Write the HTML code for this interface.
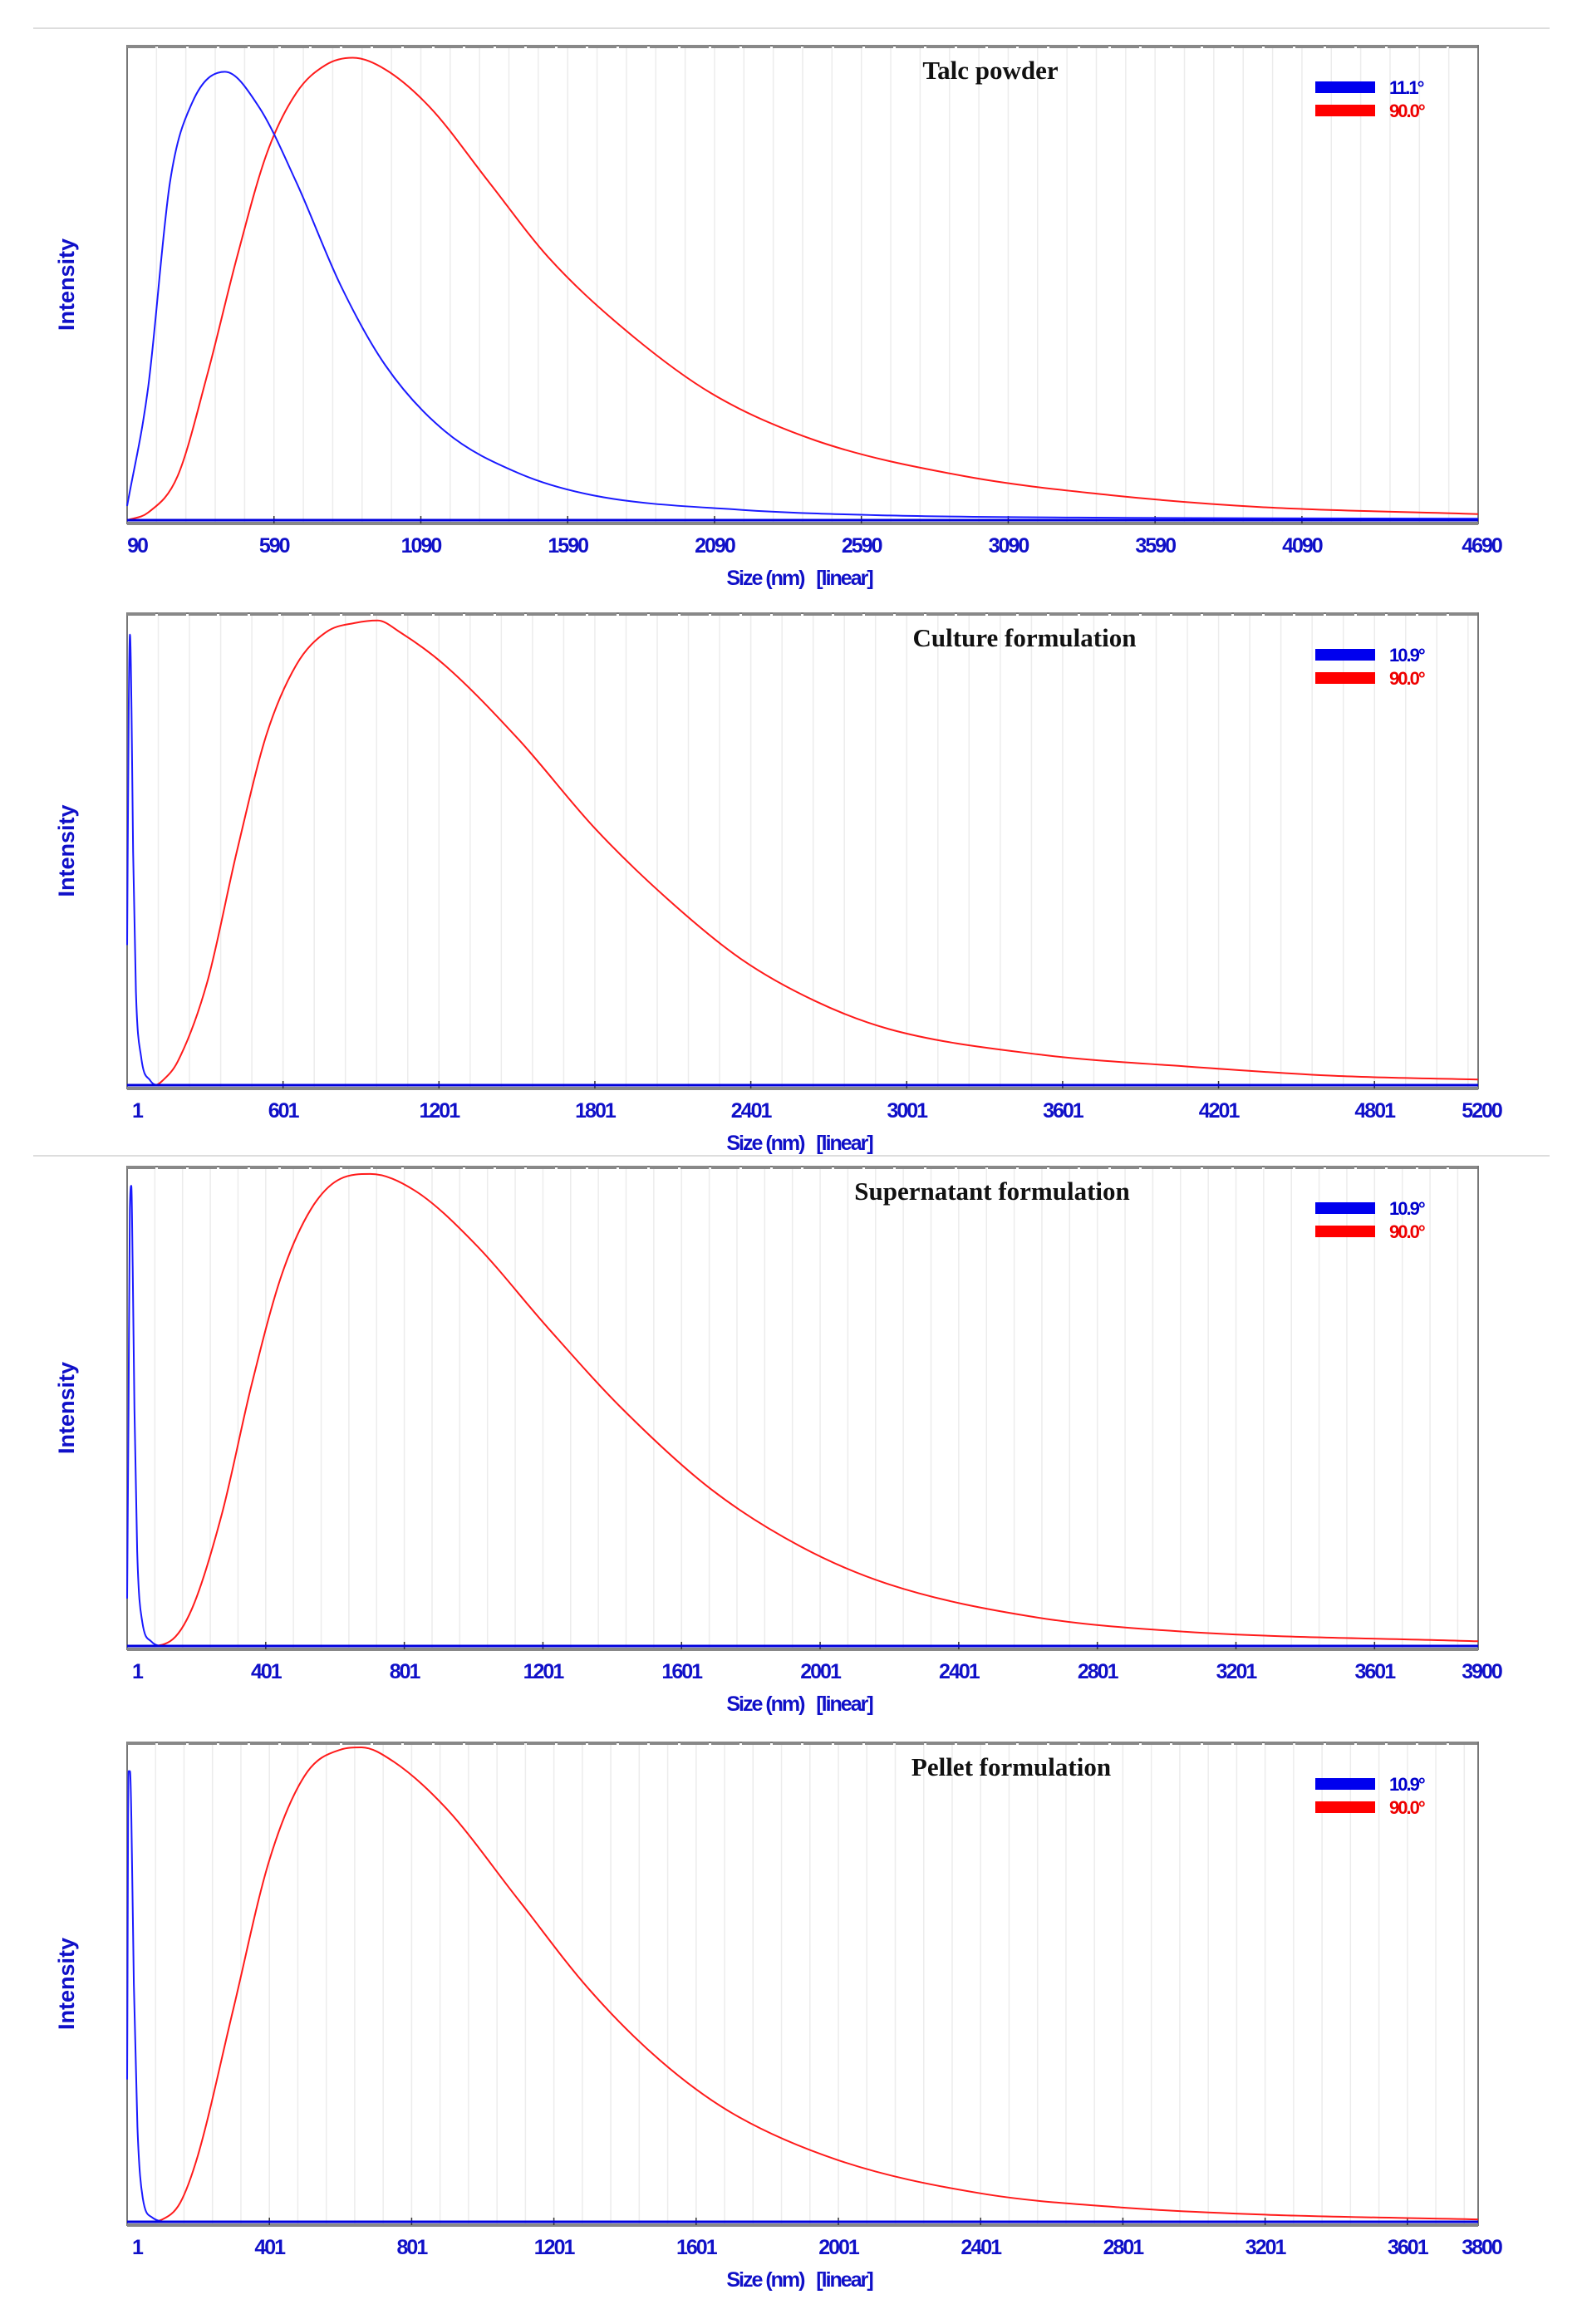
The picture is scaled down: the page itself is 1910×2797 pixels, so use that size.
<!DOCTYPE html>
<html><head><meta charset="utf-8"><style>
html,body{margin:0;padding:0;background:#fff;width:1910px;height:2797px;overflow:hidden}
svg{display:block}
.tick{font-family:"Liberation Sans",sans-serif;font-weight:bold;font-size:25px;fill:#1010c8;letter-spacing:-2px}
.title{font-family:"Liberation Serif",serif;font-weight:bold;font-size:31px;fill:#111}
.ylab{font-family:"Liberation Sans",sans-serif;font-weight:bold;font-size:27px;fill:#1010c8}
.leg{font-family:"Liberation Sans",sans-serif;font-weight:bold;font-size:22px;letter-spacing:-2px}
</style></head><body>
<svg id="chart" width="1910" height="2797" xmlns="http://www.w3.org/2000/svg">
<line x1="40" y1="34" x2="1865" y2="34" stroke="#ddd" stroke-width="2"/>
<line x1="40" y1="1391" x2="1865" y2="1391" stroke="#ddd" stroke-width="2"/>
</svg>
<script>
// Panel 1: Talc powder
const talcBlueSize=[90,161,236,312,423,539,666,817,969,1171,1423,1676,2180,2685,3500,4690];
const talcBlueInt=[0.03,0.28,0.72,0.89,0.955,0.88,0.72,0.50,0.33,0.19,0.10,0.053,0.022,0.01,0.005,0.003];
const talcRedSize=[90,161,262,363,464,565,666,767,858,969,1120,1322,1524,1777,2079,2433,2938,3443,3948,4690];
const talcRedInt=[0,0.016,0.094,0.31,0.56,0.78,0.91,0.97,0.985,0.96,0.88,0.72,0.56,0.41,0.27,0.17,0.094,0.053,0.028,0.013];
const talcTicks=[90,590,1090,1590,2090,2590,3090,3590,4090,4690];
// Panel 2: Culture formulation
const cultBlueSize=[1,7,12,18,24,35,55,90,120,5200];
const cultBlueInt=[0.3,0.8,0.965,0.8,0.5,0.2,0.06,0.01,0,0];
const cultRedSize=[1,81,110,138,195,309,423,537,652,766,880,965,1051,1222,1508,1801,2078,2364,2649,2934,3505,4076,4647,5200];
const cultRedInt=[0,0,0,0.01,0.05,0.22,0.5,0.75,0.9,0.97,0.99,0.995,0.97,0.9,0.74,0.55,0.4,0.27,0.18,0.12,0.066,0.04,0.02,0.012];
const cultTicks=[1,601,1201,1801,2401,3001,3601,4201,4801,5200];
// Panel 3: Supernatant formulation
const supBlueSize=[1,5,9,13,17,22,30,45,70,100,3900];
const supBlueInt=[0.1,0.5,0.92,0.97,0.8,0.5,0.2,0.05,0.01,0,0];
const supRedSize=[1,61,125,189,275,360,446,531,617,703,831,1002,1216,1430,1687,1944,2200,2628,3056,3900];
const supRedInt=[0,0,0.01,0.08,0.28,0.55,0.78,0.92,0.985,0.995,0.96,0.85,0.67,0.5,0.33,0.21,0.13,0.06,0.03,0.01];
const supTicks=[1,401,801,1201,1601,2001,2401,2801,3201,3601,3900];
// Panel 4: Pellet formulation
const pelBlueSize=[1,5,9,13,20,30,45,70,120,3800];
const pelBlueInt=[0.3,0.95,0.95,0.85,0.5,0.2,0.05,0.01,0,0];
const pelRedSize=[1,60,100,150,200,300,400,500,600,660,750,900,1100,1300,1500,1700,2000,2400,2800,3200,3800];
const pelRedInt=[0,0,0.005,0.04,0.14,0.45,0.76,0.94,0.995,1.0,0.97,0.87,0.68,0.49,0.34,0.23,0.13,0.06,0.03,0.015,0.005];
const pelTicks=[1,401,801,1201,1601,2001,2401,2801,3201,3601,3800];

const NS="http://www.w3.org/2000/svg";
const svg=document.getElementById('chart');
function mk(tag,attrs,parent){const e=document.createElementNS(NS,tag);for(const k in attrs)e.setAttribute(k,attrs[k]);(parent||svg).appendChild(e);return e;}

// monotone cubic path through pixel points
function monoPath(X,Y){
 const n=X.length;const d=[],m=[];
 for(let i=0;i<n-1;i++)d.push((Y[i+1]-Y[i])/(X[i+1]-X[i]));
 m[0]=d[0];m[n-1]=d[n-2];
 for(let i=1;i<n-1;i++){m[i]=(d[i-1]*d[i]<=0)?0:(d[i-1]+d[i])/2;}
 for(let i=0;i<n-1;i++){
  if(d[i]===0){m[i]=0;m[i+1]=0;continue;}
  const a=m[i]/d[i],b=m[i+1]/d[i],s=a*a+b*b;
  if(s>9){const t=3/Math.sqrt(s);m[i]=t*a*d[i];m[i+1]=t*b*d[i];}
 }
 let p='M'+X[0].toFixed(1)+' '+Y[0].toFixed(1);
 for(let i=0;i<n-1;i++){
  const h=(X[i+1]-X[i])/3;
  p+=` C${(X[i]+h).toFixed(1)} ${(Y[i]+m[i]*h).toFixed(1)} ${(X[i+1]-h).toFixed(1)} ${(Y[i+1]-m[i+1]*h).toFixed(1)} ${X[i+1].toFixed(1)} ${Y[i+1].toFixed(1)}`;
 }
 return p;
}

const panels=[
 {key:'talc',title:'Talc powder',tx:1192,top:55,bot:630,min:90,max:4690,step:500,ticks:talcTicks,bs:talcBlueSize,bi:talcBlueInt,rs:talcRedSize,ri:talcRedInt,bl:'11.1°'},
 {key:'culture',title:'Culture formulation',tx:1233,top:738,bot:1310,min:1,max:5200,step:600,ticks:cultTicks,bs:cultBlueSize,bi:cultBlueInt,rs:cultRedSize,ri:cultRedInt,bl:'10.9°'},
 {key:'supernatant',title:'Supernatant formulation',tx:1194,top:1404,bot:1985,min:1,max:3900,step:400,ticks:supTicks,bs:supBlueSize,bi:supBlueInt,rs:supRedSize,ri:supRedInt,bl:'10.9°'},
 {key:'pellet',title:'Pellet formulation',tx:1217,top:2097,bot:2678,min:1,max:3800,step:400,ticks:pelTicks,bs:pelBlueSize,bi:pelBlueInt,rs:pelRedSize,ri:pelRedInt,bl:'10.9°'}
];
const L=153,R=1779;
panels.forEach(p=>{
 const g=mk('g',{});
 
 
 const xs=v=>L+(v-p.min)/(p.max-p.min)*(R-L);
 const base=p.bot-4;
 const ys=v=>base-v*(base-p.top-6);
 const sub=p.step/5;
 for(let v=p.min+sub;v<p.max;v+=sub){
  const gl=mk('line',{x1:xs(v),x2:xs(v),y1:p.top,y2:p.bot,stroke:'#ececec','stroke-width':1.5},g);
  
  
 }
 const fr=mk('rect',{x:L,y:p.top,width:R-L,height:p.bot-p.top,fill:'none',stroke:'#777','stroke-width':2},g);
 
 
 const tb=mk('line',{x1:L,x2:R,y1:p.top+1,y2:p.top+1,stroke:'#888','stroke-width':4,'stroke-dasharray':'34 3'},g);
 
 
 const bb=mk('line',{x1:L,x2:R,y1:p.bot,y2:p.bot,stroke:'#888','stroke-width':4},g);
 
 
 p.ticks.forEach((t,i)=>{
  const x=xs(t);
  if(i>0&&i<p.ticks.length-1){const tk=mk('line',{x1:x,x2:x,y1:p.bot-9,y2:p.bot,stroke:'#333','stroke-width':1.5},g);
  
  }
  const tl=mk('text',{x:x+(i==0?12:(i==p.ticks.length-1?4:0)),y:p.bot+35,'text-anchor':'middle',class:'tick'},g);
  tl.textContent=t;
  
  
 });
 const xl=mk('text',{x:962,y:p.bot+74,'text-anchor':'middle',class:'tick','xml:space':'preserve'},g);
 xl.textContent='Size (nm)\u00a0\u00a0\u00a0[linear]';
 
 
 const my=(p.top+p.bot)/2;
 const yl=mk('text',{x:89,y:my,'text-anchor':'middle',class:'ylab',transform:`rotate(-90 89 ${my})`},g);
 yl.textContent='Intensity';
 
 
 const tt=mk('text',{x:p.tx,y:p.top+40,'text-anchor':'middle',class:'title'},g);
 tt.textContent=p.title;
 
 
 const lb=mk('rect',{x:1583,y:p.top+43,width:72,height:14,fill:'#0000ee'},g);
 
 
 const lbt=mk('text',{x:1672,y:p.top+58,class:'leg',fill:'#0000cc'},g);
 lbt.textContent=p.bl;
 
 
 const lr=mk('rect',{x:1583,y:p.top+71,width:72,height:14,fill:'#ff0000'},g);
 
 
 const lrt=mk('text',{x:1672,y:p.top+86,class:'leg',fill:'#ee0000'},g);
 lrt.textContent='90.0°';
 
 
 const path=(sz,it)=>monoPath(sz.map(xs),it.map(ys));
 const rp=mk('path',{d:path(p.rs,p.ri),fill:'none',stroke:'#ff1a1a','stroke-width':2,'stroke-linejoin':'round'},g);
 
 
 const bp=mk('path',{d:path(p.bs,p.bi),fill:'none',stroke:'#1a1aff','stroke-width':2,'stroke-linejoin':'round'},g);
 
 
 const bl=mk('line',{x1:L,x2:R,y1:base,y2:base,stroke:'#0000dd','stroke-width':3},g);
 
 
});
</script>
</body></html>
